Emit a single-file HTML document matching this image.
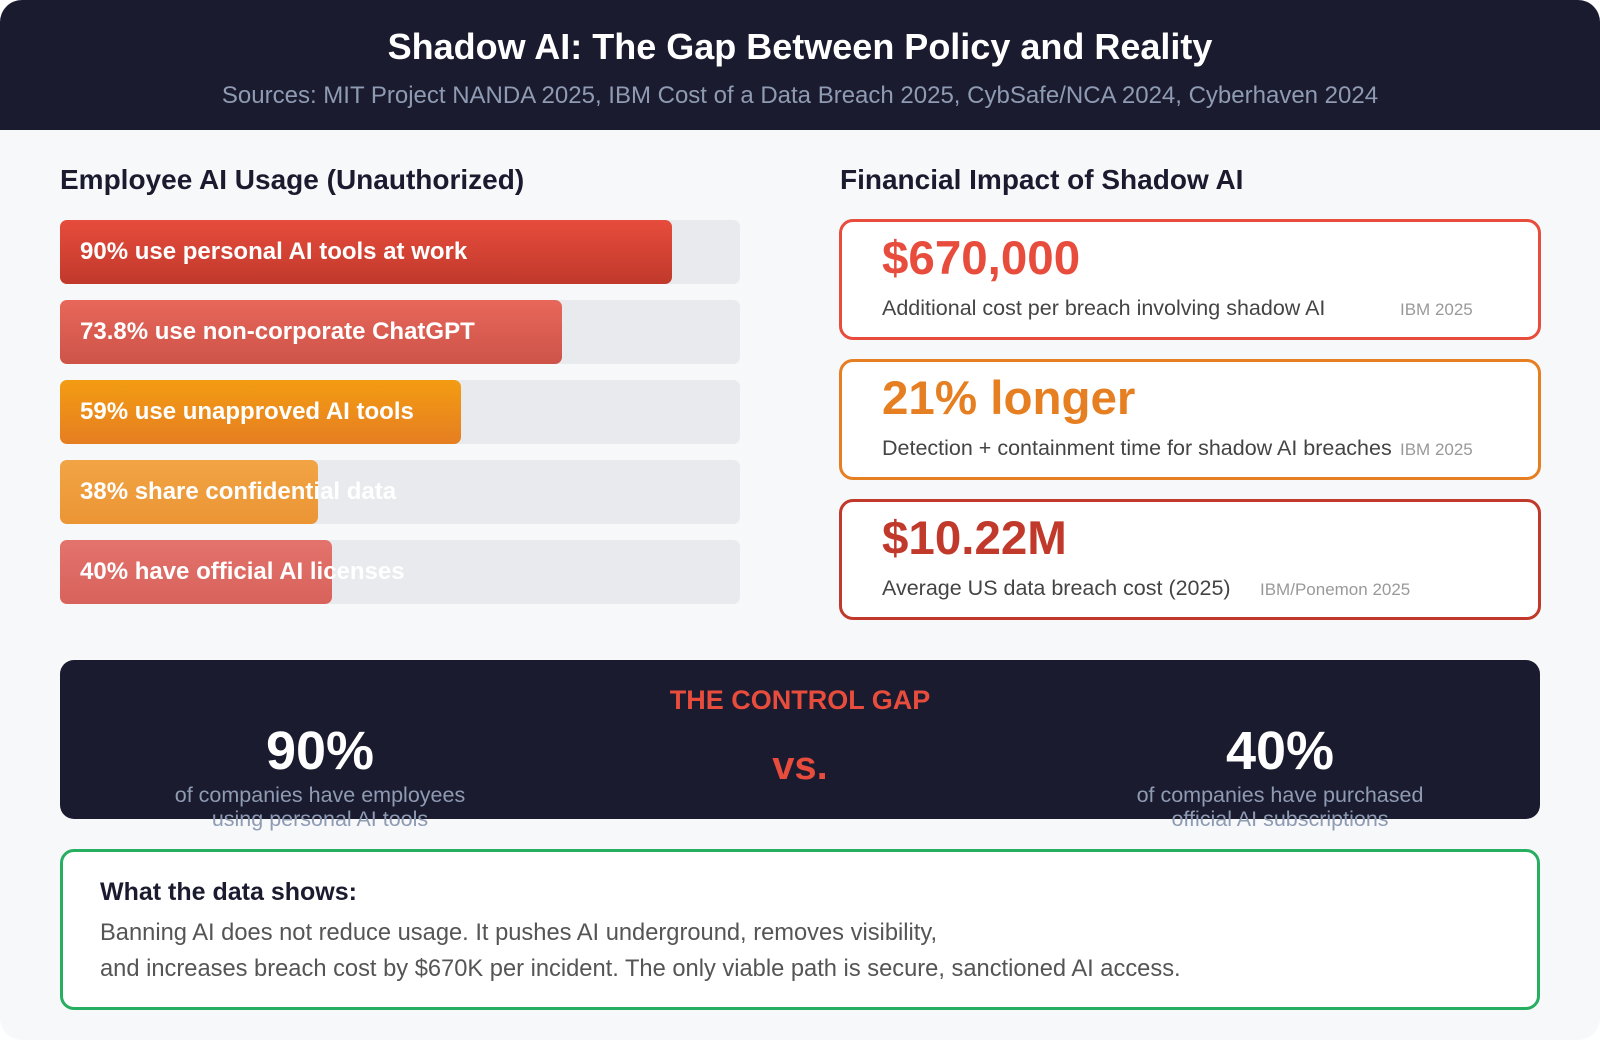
<!DOCTYPE html>
<html><head><meta charset="utf-8">
<style>
*{margin:0;padding:0;box-sizing:border-box}
body{width:1600px;height:1040px;background:#fff;font-family:"Liberation Sans",sans-serif;position:relative;overflow:hidden}
.abs{position:absolute}
#page{position:absolute;left:0;top:0;width:1600px;height:1040px;background:#f7f8fa;border-radius:22px;overflow:hidden}
#header{position:absolute;left:0;top:0;width:1600px;height:130px;background:#1b1b2f}
.t{position:absolute;white-space:nowrap}
.bar-track{position:absolute;left:60px;width:680px;height:64px;background:#e8eaee;border-radius:7px}
.bar{position:absolute;left:60px;height:64px;border-radius:7px}
.bar-label{position:absolute;left:80px;height:64px;line-height:64px;color:#fff;font-weight:bold;font-size:24px;white-space:nowrap}
.card{position:absolute;left:839px;width:702px;height:121px;border:3px solid;border-radius:14px;background:#fff}
.big{position:absolute;left:40px;top:9px;font-weight:bold;font-size:47.5px}
.desc{position:absolute;left:40px;top:74px;font-size:21.5px;color:#444}
.src{position:absolute;top:78px;font-size:17px;color:#999}
</style></head><body>
<div id="page">
<div id="header">
 <div class="t" style="left:0;width:1600px;text-align:center;top:26px;font-size:36px;font-weight:bold;color:#fff">Shadow AI: The Gap Between Policy and Reality</div>
 <div class="t" style="left:0;width:1600px;text-align:center;top:82px;font-size:24px;color:#8e9bb3">Sources: MIT Project NANDA 2025, IBM Cost of a Data Breach 2025, CybSafe/NCA 2024, Cyberhaven 2024</div>
</div>
<div class="t" style="left:60px;top:164px;font-size:28px;font-weight:bold;color:#1b1b2f">Employee AI Usage (Unauthorized)</div>
<div id="bars"></div>

<div class="t" style="left:840px;top:164px;font-size:28px;font-weight:bold;color:#1b1b2f">Financial Impact of Shadow AI</div>
<div class="card" style="top:219px;border-color:#e74c3c">
 <div class="big" style="color:#e74c3c">$670,000</div>
 <div class="desc">Additional cost per breach involving shadow AI</div>
 <div class="src" style="left:558px">IBM 2025</div>
</div>
<div class="card" style="top:359px;border-color:#e67e22">
 <div class="big" style="color:#e67e22">21% longer</div>
 <div class="desc">Detection + containment time for shadow AI breaches</div>
 <div class="src" style="left:558px">IBM 2025</div>
</div>
<div class="card" style="top:499px;border-color:#c0392b">
 <div class="big" style="color:#c0392b">$10.22M</div>
 <div class="desc">Average US data breach cost (2025)</div>
 <div class="src" style="left:418px">IBM/Ponemon 2025</div>
</div>

<div class="abs" style="left:60px;top:660px;width:1480px;height:159px;background:#1b1b2f;border-radius:14px"></div>
<div class="t" style="left:0;width:1600px;text-align:center;top:685px;font-size:27px;font-weight:bold;color:#e74c3c">THE CONTROL GAP</div>
<div class="t" style="left:120px;width:400px;text-align:center;top:720px;font-size:54px;font-weight:bold;color:#fff">90%</div>
<div class="t" style="left:120px;width:400px;text-align:center;top:783px;font-size:21.5px;line-height:24px;color:#8e9bb3">of companies have employees<br>using personal AI tools</div>
<div class="t" style="left:0;width:1600px;text-align:center;top:744px;font-size:40px;font-weight:bold;color:#e74c3c">vs.</div>
<div class="t" style="left:1080px;width:400px;text-align:center;top:720px;font-size:54px;font-weight:bold;color:#fff">40%</div>
<div class="t" style="left:1080px;width:400px;text-align:center;top:783px;font-size:21.5px;line-height:24px;color:#8e9bb3">of companies have purchased<br>official AI subscriptions</div>

<div class="abs" style="left:60px;top:849px;width:1480px;height:161px;border:3px solid #27ae60;border-radius:14px;background:#fff">
 <div class="t" style="left:37px;top:26px;font-size:25px;font-weight:bold;color:#1b1b2f">What the data shows:</div>
 <div class="t" style="left:37px;top:63px;font-size:23.7px;line-height:36px;color:#555">Banning AI does not reduce usage. It pushes AI underground, removes visibility,<br>and increases breach cost by $670K per incident. The only viable path is secure, sanctioned AI access.</div>
</div>
</div>
<script>
const labels=["90% use personal AI tools at work","73.8% use non-corporate ChatGPT","59% use unapproved AI tools","38% share confidential data","40% have official AI licenses"];
const values=[90,73.8,59,38,40];
const colorsTop=["#e74c3c","#e8675a","#f39c12","#f2a444","#e3736c"];
const colorsBot=["#c0392b","#cd5349","#e67e22","#eb9535","#d8625c"];
const host=document.getElementById('bars');
const trackW=680, x0=60, y0=220, step=80;
function xScale(v){return v/100*trackW;}
labels.forEach((l,i)=>{
 const y=y0+i*step;
 const tr=document.createElement('div');tr.className='bar-track';tr.style.top=y+'px';
 
 
 host.appendChild(tr);
 const b=document.createElement('div');b.className='bar';b.style.top=y+'px';
 b.style.width=xScale(values[i])+'px';
 b.style.background='linear-gradient(180deg,'+colorsTop[i]+','+colorsBot[i]+')';
 
 
 host.appendChild(b);
 const t=document.createElement('div');t.className='bar-label';t.style.top=y+'px';t.textContent=l;
 
 
 host.appendChild(t);
});
</script>
</body></html>
